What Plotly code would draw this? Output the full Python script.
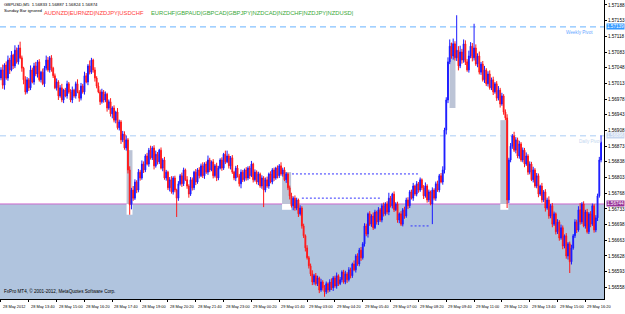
import plotly.graph_objects as go

# ---------------- data (GBPUSD, M5) ----------------
first_open = 1.57025
close = [
    # 28 May 12:20 ...
    1.57043, 1.57009, 1.57054, 1.57025, 1.57065, 1.57043, 1.57076, 1.57052, 1.57087, 1.57061, 1.57092, 1.57070, 1.57047, 1.57021, 1.56994,
    1.57021, 1.57003, 1.57043, 1.57016, 1.57052, 1.57034, 1.57061, 1.57021, 1.57038, 1.57012, 1.57047, 1.57065, 1.57043, 1.57070,
    1.57047, 1.57030, 1.57003, 1.57016, 1.56985, 1.57003, 1.56976, 1.56998, 1.56985, 1.57012, 1.56994, 1.56976, 1.56998, 1.56985, 1.57012, 1.56994, 1.56980,
    1.57007, 1.56994, 1.57030, 1.57016, 1.57052, 1.57038, 1.57065, 1.57043, 1.57025, 1.57007, 1.56994, 1.56972,
    1.56994, 1.56976, 1.56989, 1.56958, 1.56972, 1.56945, 1.56958, 1.56931, 1.56949, 1.56914, 1.56927, 1.56887, 1.56900, 1.56869,
    1.56887, 1.56820, 1.56742, 1.56775, 1.56757,
    1.56793, 1.56775, 1.56815, 1.56802, 1.56833, 1.56820, 1.56851, 1.56833, 1.56864, 1.56847, 1.56869, 1.56829,
    1.56855, 1.56838, 1.56864, 1.56824, 1.56842, 1.56802, 1.56815, 1.56780, 1.56798, 1.56771, 1.56802, 1.56775, 1.56757, 1.56789,
    1.56807, 1.56789, 1.56820, 1.56798, 1.56784, 1.56766,
    1.56798, 1.56780, 1.56815, 1.56793, 1.56820, 1.56807,
    1.56829, 1.56807, 1.56833, 1.56815, 1.56842,
    1.56820, 1.56838, 1.56807, 1.56829, 1.56802, 1.56824,
    1.56842, 1.56824, 1.56855, 1.56838, 1.56851,
    1.56829, 1.56847, 1.56815, 1.56802, 1.56824, 1.56807, 1.56789, 1.56815, 1.56798, 1.56820,
    1.56802, 1.56824, 1.56807, 1.56833, 1.56798, 1.56815, 1.56793, 1.56811, 1.56784, 1.56802, 1.56775,
    1.56798, 1.56784, 1.56811, 1.56793, 1.56820, 1.56802, 1.56824, 1.56807, 1.56829, 1.56811, 1.56820,
    1.56798, 1.56811, 1.56780, 1.56762, 1.56740, 1.56757, 1.56735, 1.56753,
    1.56722, 1.56735, 1.56695, 1.56673, 1.56646, 1.56624, 1.56606, 1.56588, 1.56570, 1.56584,
    1.56566, 1.56579, 1.56552, 1.56570, 1.56557, 1.56548, 1.56566, 1.56552, 1.56570, 1.56557,
    1.56579, 1.56561, 1.56584, 1.56566, 1.56575, 1.56592, 1.56570, 1.56588, 1.56575, 1.56597,
    1.56584, 1.56610, 1.56597, 1.56628, 1.56610, 1.56641, 1.56624, 1.56655,
    1.56695, 1.56677, 1.56722, 1.56699, 1.56717, 1.56691, 1.56726, 1.56704, 1.56731, 1.56708, 1.56740, 1.56722, 1.56744,
    1.56726, 1.56757, 1.56740, 1.56766, 1.56731, 1.56744, 1.56708, 1.56722, 1.56699,
    1.56731, 1.56717, 1.56753, 1.56740, 1.56771, 1.56757, 1.56784, 1.56766, 1.56789, 1.56775,
    1.56798, 1.56780, 1.56762, 1.56784, 1.56753, 1.56771, 1.56744, 1.56775, 1.56757, 1.56789,
    1.56775, 1.56807, 1.56793, 1.56820, 1.56909, 1.56976, 1.57061, 1.57096,
    1.57074, 1.57101, 1.57070, 1.57087, 1.57052, 1.57083, 1.57065, 1.57101, 1.57061, 1.57043, 1.57074, 1.57096,
    1.57070, 1.57092, 1.57056, 1.57074, 1.57038, 1.57056, 1.57021, 1.57043, 1.57012, 1.57034, 1.57003, 1.57021,
    1.56994, 1.57012, 1.56980, 1.56998, 1.56967, 1.56985, 1.56949, 1.56936,
    1.56753, 1.56842, 1.56873, 1.56896, 1.56864, 1.56887, 1.56851, 1.56878, 1.56842, 1.56864,
    1.56833, 1.56851, 1.56815, 1.56833, 1.56798, 1.56820, 1.56784, 1.56807, 1.56766, 1.56784,
    1.56753, 1.56771, 1.56735, 1.56753, 1.56717, 1.56740, 1.56699, 1.56722, 1.56682, 1.56704,
    1.56668, 1.56691, 1.56650, 1.56673, 1.56628, 1.56655, 1.56615, 1.56646, 1.56673, 1.56704,
    1.56686, 1.56731, 1.56704, 1.56744, 1.56695, 1.56726, 1.56682, 1.56722, 1.56699, 1.56740,
    1.56686, 1.56713, 1.56762, 1.56842, 1.56882,
]
upper_wick_pips = [
    0.6, 1.2, 0.4, 0.8, 1.0, 0.5, 0.9, 0.3, 1.1, 0.6, 0.7, 1.4, 0.5, 0.3, 0.8, 0.6, 0.4, 1.0, 0.5, 0.7,
    0.9, 0.4, 0.6, 0.3, 0.8, 0.5, 1.0, 0.7, 0.4, 0.6, 0.3, 0.5, 0.8, 0.4, 0.6, 0.9, 0.3, 0.5, 0.7, 0.4,
    0.6, 0.8, 0.3, 0.5, 1.0, 0.4, 0.7, 0.5, 0.9, 0.6, 0.4, 1.2, 0.5, 0.3, 0.6, 0.4, 0.8, 0.5, 0.7, 0.4,
    0.6, 0.3, 0.5, 0.8, 0.4, 0.6, 0.3, 0.9, 0.5, 0.4, 0.7, 0.6, 1.0, 0.4, 0.8, 0.5, 0.9, 0.6, 0.4, 0.7,
    0.5, 0.8, 0.6, 0.4, 0.7, 0.5, 1.0, 0.4, 0.6, 0.8, 0.5, 0.3, 0.6, 0.4, 0.7, 0.5, 0.3, 0.6, 0.8, 0.4,
    0.5, 0.3, 0.6, 0.4, 0.7, 0.5, 0.3, 0.8, 0.4, 0.6, 0.5, 0.3, 0.7, 0.4, 0.6, 0.5, 0.8, 0.4, 0.6, 1.0,
    0.5, 0.3, 0.6, 0.4, 0.7, 0.5, 0.4, 0.6, 0.3, 0.8, 1.2, 0.5, 0.4, 0.6, 0.3, 0.5, 0.7, 0.4, 0.6, 0.5,
    0.3, 0.6, 0.4, 0.5, 0.7, 0.3, 0.6, 0.4, 0.5, 0.3, 0.6, 0.4, 0.5, 0.7, 0.3, 0.6, 0.4, 0.5, 0.3, 0.6,
    0.4, 0.8, 0.5, 0.6, 0.4, 0.3, 0.5, 0.7, 0.4, 0.6, 0.5, 0.3, 0.6, 0.4, 0.5, 0.3, 0.6, 0.4, 0.5, 0.8,
    0.4, 0.6, 0.5, 0.3, 0.7, 0.4, 0.6, 0.5, 0.3, 0.6, 0.8, 0.4, 0.5, 0.7, 0.3, 0.6, 0.4, 0.5, 0.7, 0.4,
    0.6, 0.5, 0.3, 0.8, 0.4, 0.6, 0.5, 0.7, 0.4, 0.6, 0.5, 0.3, 0.6, 0.4, 0.8, 0.5, 0.3, 0.6, 0.4, 0.5,
    0.7, 0.4, 0.6, 1.2, 0.5, 0.3, 0.6, 0.4, 0.5, 0.3, 0.6, 0.4, 0.7, 0.5, 0.6, 0.4, 0.5, 0.7, 0.3, 0.6,
    0.4, 0.5, 0.3, 0.6, 0.8, 0.4, 0.5, 0.3, 0.6, 0.4, 0.5, 0.7, 0.4, 0.6, 0.8, 0.5, 0.6, 1.0, 1.5, 0.8,
    1.2, 0.6, 7.8, 0.9, 1.4, 0.7, 1.0, 0.8, 0.6, 1.2, 0.9, 0.7, 5.4, 0.8, 0.6, 1.0, 0.5, 0.7, 0.9, 0.4,
    0.6, 0.8, 0.5, 0.7, 0.4, 0.6, 0.9, 0.5, 0.7, 0.4, 0.6, 0.8, 0.5, 0.7, 0.4, 0.9, 0.6, 0.5, 0.7, 0.4,
    0.6, 0.5, 0.8, 0.4, 0.6, 0.5, 0.7, 0.4, 0.6, 0.5, 0.3, 0.7, 0.4, 0.6, 0.5, 0.8, 0.4, 0.6, 0.5, 0.3,
    0.6, 0.4, 0.7, 0.5, 0.3, 0.6, 0.4, 0.5, 0.7, 0.4, 0.6, 0.5, 0.8, 1.5, 0.4, 0.6, 0.5, 0.7, 0.4, 0.6,
    0.5, 0.4, 0.6, 0.5, 0.7, 1.5,
]
lower_wick_pips = [
    0.5, 0.8, 1.0, 0.4, 0.6, 0.9, 0.3, 0.7, 0.5, 0.4, 0.6, 0.3, 0.8, 1.0, 0.6, 0.4, 0.7, 0.5, 0.3, 0.6,
    0.5, 0.8, 0.4, 0.6, 0.3, 0.7, 0.5, 0.4, 0.6, 0.8, 0.5, 0.3, 0.6, 0.9, 0.4, 0.5, 0.7, 0.3, 0.6, 0.4,
    0.5, 0.7, 0.4, 0.6, 0.3, 0.8, 0.5, 0.4, 0.6, 0.3, 0.7, 0.5, 0.4, 0.6, 0.8, 0.5, 0.3, 0.7, 0.4, 0.6,
    0.5, 0.8, 0.4, 0.6, 1.0, 0.5, 0.7, 0.4, 0.6, 0.9, 0.5, 0.4, 0.6, 0.8, 2.2, 1.0, 0.6, 0.4, 0.7, 0.5,
    0.6, 0.4, 0.7, 0.5, 0.3, 0.6, 0.4, 0.5, 0.8, 0.4, 0.6, 0.5, 0.3, 0.7, 0.4, 0.6, 0.5, 0.8, 0.4, 0.6,
    0.5, 4.2, 0.6, 0.4, 0.7, 0.5, 0.3, 0.6, 0.8, 0.4, 0.6, 0.5, 0.7, 0.4, 0.6, 0.3, 0.5, 0.7, 0.4, 0.6,
    0.5, 0.3, 0.6, 0.4, 0.7, 0.5, 0.3, 0.6, 0.4, 0.5, 0.3, 0.6, 0.8, 0.4, 0.5, 0.7, 0.4, 0.6, 1.0, 0.5,
    0.4, 0.6, 0.5, 0.7, 0.3, 0.6, 0.4, 0.5, 0.7, 0.4, 0.6, 3.8, 0.5, 0.4, 0.6, 0.3, 0.5, 0.7, 0.4, 0.6,
    0.5, 0.4, 0.6, 0.3, 0.7, 0.5, 0.8, 0.4, 1.0, 0.6, 0.5, 0.7, 0.4, 0.6, 0.5, 0.8, 0.4, 0.6, 0.5, 0.7,
    0.6, 0.4, 0.5, 0.7, 0.4, 0.6, 1.1, 0.5, 0.6, 0.4, 0.5, 0.7, 0.4, 0.6, 0.5, 0.3, 0.6, 0.4, 0.5, 0.7,
    0.4, 0.6, 0.5, 0.3, 0.6, 0.4, 0.5, 0.7, 0.4, 0.6, 0.5, 0.8, 0.4, 0.6, 0.5, 0.3, 0.6, 0.7, 0.4, 0.5,
    0.6, 0.4, 0.5, 0.7, 0.4, 0.6, 0.5, 0.3, 0.6, 0.7, 0.4, 0.5, 0.6, 0.4, 0.7, 0.5, 0.3, 0.6, 0.4, 0.5,
    0.6, 0.4, 0.5, 0.7, 0.4, 0.6, 0.5, 0.3, 4.5, 0.5, 0.6, 0.4, 0.5, 0.3, 0.6, 0.8, 1.0, 0.7, 0.5, 0.6,
    0.8, 0.6, 0.7, 1.0, 0.5, 0.8, 0.6, 0.7, 0.4, 0.6, 0.5, 0.8, 0.6, 0.4, 0.7, 0.5, 0.6, 0.4, 0.7, 0.5,
    0.6, 0.4, 0.5, 0.7, 0.4, 0.6, 0.5, 0.8, 0.4, 0.6, 0.5, 1.8, 0.7, 0.5, 0.6, 0.4, 0.7, 0.5, 0.6, 0.4,
    0.5, 0.7, 0.4, 0.6, 0.5, 0.3, 0.6, 0.4, 0.5, 0.7, 0.4, 0.6, 0.5, 0.8, 0.4, 0.6, 0.5, 0.7, 0.4, 0.6,
    0.5, 0.6, 0.4, 0.7, 0.5, 0.6, 0.8, 2.5, 0.6, 0.4, 0.5, 0.7, 0.4, 0.6, 0.5, 0.3, 0.6, 0.4, 0.5, 0.7,
    0.4, 0.6, 0.5, 0.7, 0.4, 0.5,
]

time_tick_bars = [0, 16, 32, 48, 64, 80, 96, 112, 128, 144, 160, 176, 192, 208, 224, 240, 256, 272, 288, 304, 320, 336]
time_tick_labels = ["28 May 2012", "28 May 13:40", "28 May 15:00", "28 May 16:20", "28 May 17:40", "28 May 19:00",
                    "28 May 20:20", "28 May 21:40", "28 May 23:00", "29 May 00:20", "29 May 01:40", "29 May 03:00",
                    "29 May 04:20", "29 May 05:40", "29 May 07:00", "29 May 08:20", "29 May 09:40", "29 May 11:00",
                    "29 May 12:20", "29 May 13:40", "29 May 15:00", "29 May 16:20"]
price_ticks = [1.57188, 1.57153, 1.57118, 1.57083, 1.57048, 1.57013, 1.56978, 1.56943, 1.56908, 1.56873,
               1.56838, 1.56803, 1.56768, 1.56733, 1.56698, 1.56663, 1.56628, 1.56593, 1.56558, 1.56523]

weekly_pivot = 1.57139
daily_pivot = 1.56896
hline_level = 1.56744
# range boxes: (bar_start, bar_end, price_low, price_high)
range_boxes = [(72.2, 75.6, 1.56720, 1.56864), (161.6, 166.8, 1.56731, 1.56815),
               (257.9, 261.3, 1.56958, 1.57103), (287.1, 291.7, 1.56731, 1.56931)]
# dotted levels: (bar_start, bar_end, price)
dotted_levels = [(167.3, 240.1, 1.56811), (173.0, 218.3, 1.56757), (235.5, 247.0, 1.56695)]

header = "GBPUSD,M5  1.56833 1.56887 1.56824 1.56874"
red_pairs = "AUDNZD|EURNZD|NZDJPY|USDCHF"
green_pairs = "EURCHF|GBPAUD|GBPCAD|GBPJPY|NZDCAD|NZDCHF|NZDJPY|NZDUSD|"

PIP = 0.0001
# ---------------- build ----------------
opens = [first_open] + close[:-1]
highs = [max(o, c) + u * PIP for o, c, u in zip(opens, close, upper_wick_pips)]
lows = [min(o, c) - l * PIP for o, c, l in zip(opens, close, lower_wick_pips)]
bars = list(range(len(close)))

W, H = 625, 314
ML, MR, MT, MB = 0, 18, 0, 15
PW, PH = W - ML - MR, H - MT - MB
X_RANGE = [-0.57, 346.7]
Y_RANGE = [1.56532, 1.57199]

fig = go.Figure()
fig.add_trace(go.Candlestick(
    x=bars, open=opens, high=highs, low=lows, close=close,
    increasing=dict(line=dict(color="#1a1aff", width=1), fillcolor="#1a1aff"),
    decreasing=dict(line=dict(color="#ff1a1a", width=1), fillcolor="#ff1a1a"),
    whiskerwidth=0, hoverinfo="skip", showlegend=False,
))

shapes = []
shapes.append(dict(type="rect", xref="paper", yref="y", x0=0, x1=1, y0=Y_RANGE[0], y1=hline_level,
                   fillcolor="#b0c4de", line=dict(width=0), layer="below"))
for b0, b1, plo, phi in range_boxes:
    shapes.append(dict(type="rect", xref="x", yref="y", x0=b0, x1=b1, y0=max(plo, hline_level), y1=phi,
                       fillcolor="#bcc4d6", line=dict(width=0), layer="below"))
    if plo < hline_level:
        shapes.append(dict(type="rect", xref="x", yref="y", x0=b0, x1=b1, y0=plo, y1=hline_level,
                           fillcolor="#ffffff", line=dict(width=0), layer="below"))
shapes.append(dict(type="line", xref="paper", yref="y", x0=0, x1=1, y0=hline_level, y1=hline_level,
                   line=dict(color="#cc66cc", width=1), layer="below"))
shapes.append(dict(type="line", xref="paper", yref="y", x0=0, x1=1, y0=weekly_pivot, y1=weekly_pivot,
                   line=dict(color="#66b2ff", width=1, dash="6px,4px"), layer="below"))
shapes.append(dict(type="line", xref="paper", yref="y", x0=0, x1=1, y0=daily_pivot, y1=daily_pivot,
                   line=dict(color="#a9ccf5", width=1, dash="6px,4px"), layer="below"))
for b0, b1, p in dotted_levels:
    shapes.append(dict(type="line", xref="x", yref="y", x0=b0, x1=b1, y0=p, y1=p,
                       line=dict(color="#3333ff", width=1, dash="2px,2px"), layer="above"))

FONT = "Liberation Sans"
ann = []
def px_x(px):
    return px / PW
def px_y(py):
    return 1 - py / PH

ann.append(dict(xref="paper", yref="paper", x=px_x(2), y=px_y(0), xanchor="left", yanchor="top",
                text=header, showarrow=False, font=dict(family=FONT, size=4.3, color="#000000")))
ann.append(dict(xref="paper", yref="paper", x=px_x(2), y=px_y(6), xanchor="left", yanchor="top",
                text="Sunday Bar ignored", showarrow=False, font=dict(family=FONT, size=4.3, color="#000000")))
ann.append(dict(xref="paper", yref="paper", x=px_x(42), y=px_y(8), xanchor="left", yanchor="top",
                text=red_pairs, showarrow=False, font=dict(family=FONT, size=5.8, color="#ff3b3b")))
ann.append(dict(xref="paper", yref="paper", x=px_x(150), y=px_y(8), xanchor="left", yanchor="top",
                text=green_pairs, showarrow=False, font=dict(family=FONT, size=5.8, color="#3aa83a")))
ann.append(dict(xref="paper", yref="paper", x=px_x(2), y=px_y(286), xanchor="left", yanchor="top",
                text="FxPro MT4, © 2001-2012, MetaQuotes Software Corp.", showarrow=False,
                font=dict(family=FONT, size=4.6, color="#000000")))
ann.append(dict(xref="paper", yref="y", x=px_x(598), y=weekly_pivot, xanchor="right", yanchor="top", yshift=-1,
                text="Weekly Pivot", showarrow=False, font=dict(family=FONT, size=4.6, color="#66a8ff")))
ann.append(dict(xref="paper", yref="y", x=px_x(606), y=daily_pivot, xanchor="right", yanchor="top", yshift=-1,
                text="Daily Pivot", showarrow=False, font=dict(family=FONT, size=4.6, color="#c3d6f0")))
for b, t in zip(time_tick_bars, time_tick_labels):
    ann.append(dict(xref="x", yref="paper", x=b, y=0, xanchor="left", yanchor="top", yshift=-3,
                    text=t, showarrow=False, font=dict(family=FONT, size=3.9, color="#000000")))
for lvl, bg in [(weekly_pivot, "#3399ff"), (daily_pivot, "#c6d6ee"), (hline_level, "#993399")]:
    ann.append(dict(xref="paper", yref="y", x=1, y=lvl, xanchor="left", yanchor="middle", xshift=2,
                    text=f"{lvl:.5f}", showarrow=False, bgcolor=bg, borderpad=0,
                    font=dict(family=FONT, size=4.6, color="#ffffff")))

fig.update_layout(
    width=W, height=H, margin=dict(l=ML, r=MR, t=MT, b=MB, pad=0),
    paper_bgcolor="#ffffff", plot_bgcolor="#ffffff",
    shapes=shapes, annotations=ann, showlegend=False,
    xaxis=dict(range=X_RANGE, rangeslider=dict(visible=False), showgrid=False, zeroline=False,
               tickvals=time_tick_bars, ticks="outside", ticklen=2, tickcolor="#000000",
               showticklabels=False, showline=True, linecolor="#000000", linewidth=1),
    yaxis=dict(range=Y_RANGE, side="right", showgrid=False, zeroline=False,
               tickvals=price_ticks, ticktext=[f"{p:.5f}" for p in price_ticks],
               ticks="outside", ticklen=2, tickcolor="#000000", showline=True, linecolor="#000000",
               linewidth=1, tickfont=dict(family=FONT, size=4.6, color="#000000")),
)
fig.write_html("out.html")
